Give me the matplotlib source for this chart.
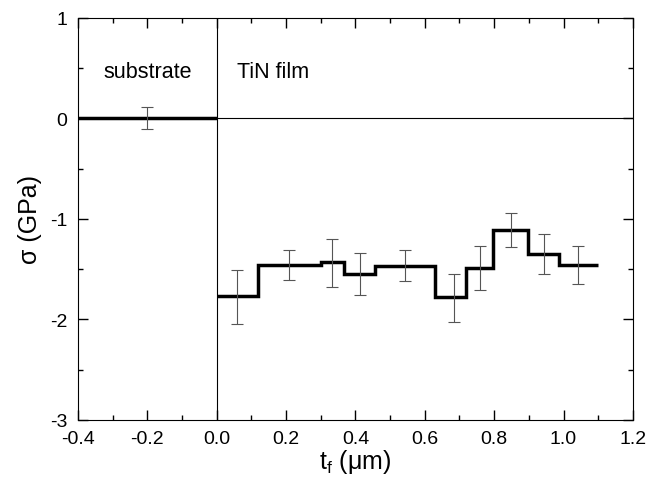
import numpy as np
import matplotlib
matplotlib.use("Agg")
import matplotlib.pyplot as plt

plt.rcParams['font.family'] = ['Liberation Sans', 'DejaVu Sans']
plt.rcParams['axes.unicode_minus'] = False

# step profile of residual stress (GPa) vs depth (um)
sub_edges = [-0.4, 0.0]
sub_sigma = [0.0]
film_edges = [0.0, 0.12, 0.30, 0.368, 0.457, 0.629, 0.718, 0.798, 0.897, 0.988, 1.10]
film_sigma = [-1.77, -1.46, -1.43, -1.55, -1.47, -1.78, -1.49, -1.11, -1.35, -1.46]

# error bars (position, centre, half-width)
err_x = [-0.20, 0.059, 0.208, 0.333, 0.414, 0.543, 0.684, 0.759, 0.848, 0.943, 1.042]
err_y = [0.0, -1.78, -1.46, -1.44, -1.55, -1.465, -1.79, -1.49, -1.11, -1.35, -1.46]
err_h = [0.11, 0.27, 0.15, 0.24, 0.21, 0.155, 0.24, 0.22, 0.17, 0.20, 0.19]

fig = plt.figure(figsize=(6.6, 4.85), dpi=100)
ax = fig.add_axes([0.118, 0.132, 0.841, 0.829])

ax.axhline(0, color='black', lw=0.8)
ax.axvline(0, color='black', lw=0.8)

ax.errorbar(err_x, err_y, yerr=err_h, fmt='none', ecolor='#555555',
            elinewidth=0.8, capsize=4, capthick=0.8)

ax.stairs(sub_sigma, sub_edges, color='black', lw=2.5, baseline=None)
ax.stairs(film_sigma, film_edges, color='black', lw=2.5, baseline=None)

ax.text(-0.2, 0.47, 'substrate', ha='center', va='center', fontsize=15.5)
ax.text(0.06, 0.47, 'TiN film', ha='left', va='center', fontsize=15.5)

ax.set_xlim(-0.4, 1.2)
ax.set_ylim(-3, 1)
ax.set_xticks(np.arange(-0.4, 1.21, 0.2))
ax.set_xticks(np.arange(-0.4, 1.21, 0.1), minor=True)
ax.set_xticklabels(['-0.4', '-0.2', '0.0', '0.2', '0.4', '0.6', '0.8', '1.0', '1.2'])
ax.set_yticks([-3, -2, -1, 0, 1])
ax.set_yticks(np.arange(-3, 1.01, 0.5), minor=True)
ax.set_yticklabels(['-3', '-2', '-1', '0', '1'])
ax.tick_params(which='both', direction='in', top=True, right=True, labelsize=14, pad=7.5)
ax.tick_params(which='major', length=7, width=1)
ax.tick_params(which='minor', length=3.5, width=1)

ax.set_xlabel(r't$_\mathregular{f}$ ($\mathregular{\mu}$m)', fontsize=18, labelpad=0)
ax.set_ylabel('σ (GPa)', fontsize=18, labelpad=6)

fig.savefig('out.png', dpi=100)
